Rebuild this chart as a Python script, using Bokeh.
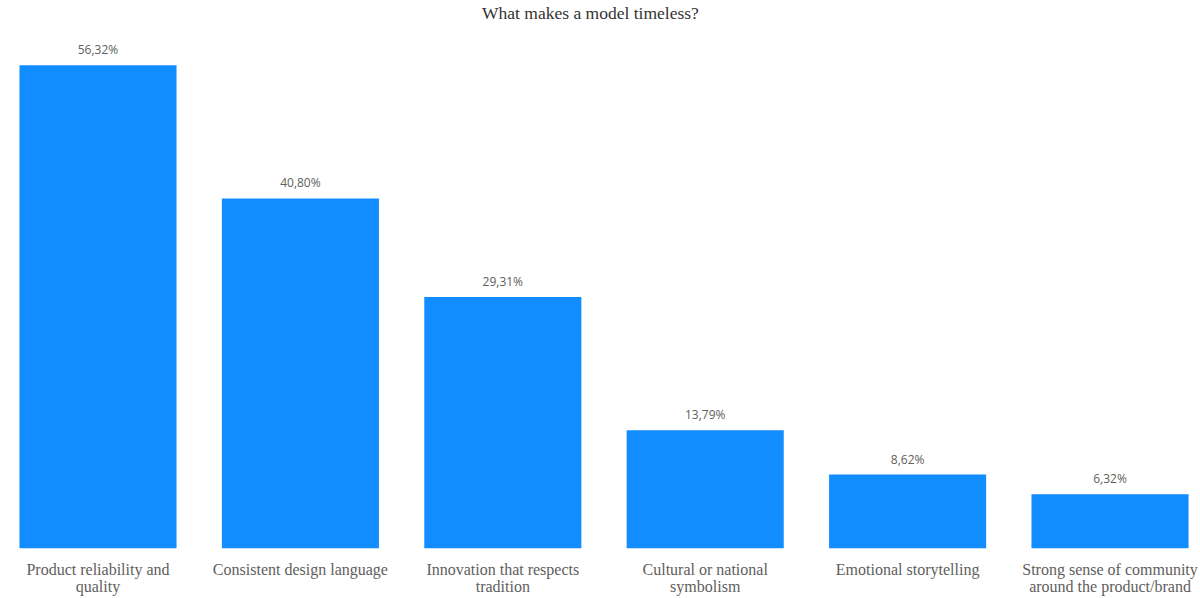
from bokeh.plotting import figure
from bokeh.models import Range1d, FixedTicker, ColumnDataSource, Label
from bokeh.embed import file_html
from bokeh.resources import INLINE
from bokeh.core.properties import value

title_text = "What makes a model timeless?"
categories = [
    "Product reliability and\nquality",
    "Consistent design language",
    "Innovation that respects\ntradition",
    "Cultural or national\nsymbolism",
    "Emotional storytelling",
    "Strong sense of community\naround the product/brand",
]
values = [56.32, 40.80, 29.31, 13.79, 8.62, 6.32]
value_labels = ["56,32%", "40,80%", "29,31%", "13,79%", "8,62%", "6,32%"]

xs = list(range(len(categories)))
src = ColumnDataSource(dict(x=xs, top=values, label=value_labels))

Y_TOP = 63.88
p = figure(
    width=1200, height=598,
    x_range=Range1d(-0.4817, 5.447), y_range=Range1d(0, Y_TOP),
    output_backend="svg", toolbar_location=None,
    y_axis_location=None,
    min_border_left=0, min_border_right=0, min_border_top=0, min_border_bottom=49,
)

p.outline_line_color = None
p.grid.visible = False
p.background_fill_color = "white"
p.border_fill_color = "white"

p.vbar(x="x", top="top", bottom=0, width=0.776, source=src,
       fill_color="#118DFF", line_color=None)

p.text(x="x", y="top", text="label", source=src,
       text_align="center", text_baseline="bottom", y_offset=-7,
       text_font=value("Open Sans"), text_font_size="12px", text_color="#605E5C")

# chart title, placed in the blank band above the bars
title = Label(x=2.433, y=Y_TOP, y_offset=-12, text=title_text,
              text_align="center", text_baseline="alphabetic",
              text_font="Liberation Serif", text_font_size="17.5px", text_color="#333333")
p.add_layout(title)

ax = p.xaxis[0]
ax.ticker = FixedTicker(ticks=xs)
ax.major_label_overrides = {i: c for i, c in zip(xs, categories)}
ax.axis_line_color = None
ax.major_tick_line_color = None
ax.minor_tick_line_color = None
ax.major_label_standoff = 6
ax.major_label_text_line_height = 1.05
ax.major_label_text_font = "Liberation Serif"
ax.major_label_text_font_size = "16px"
ax.major_label_text_color = "#605E5C"

open("out.html", "w").write(file_html(p, INLINE))
